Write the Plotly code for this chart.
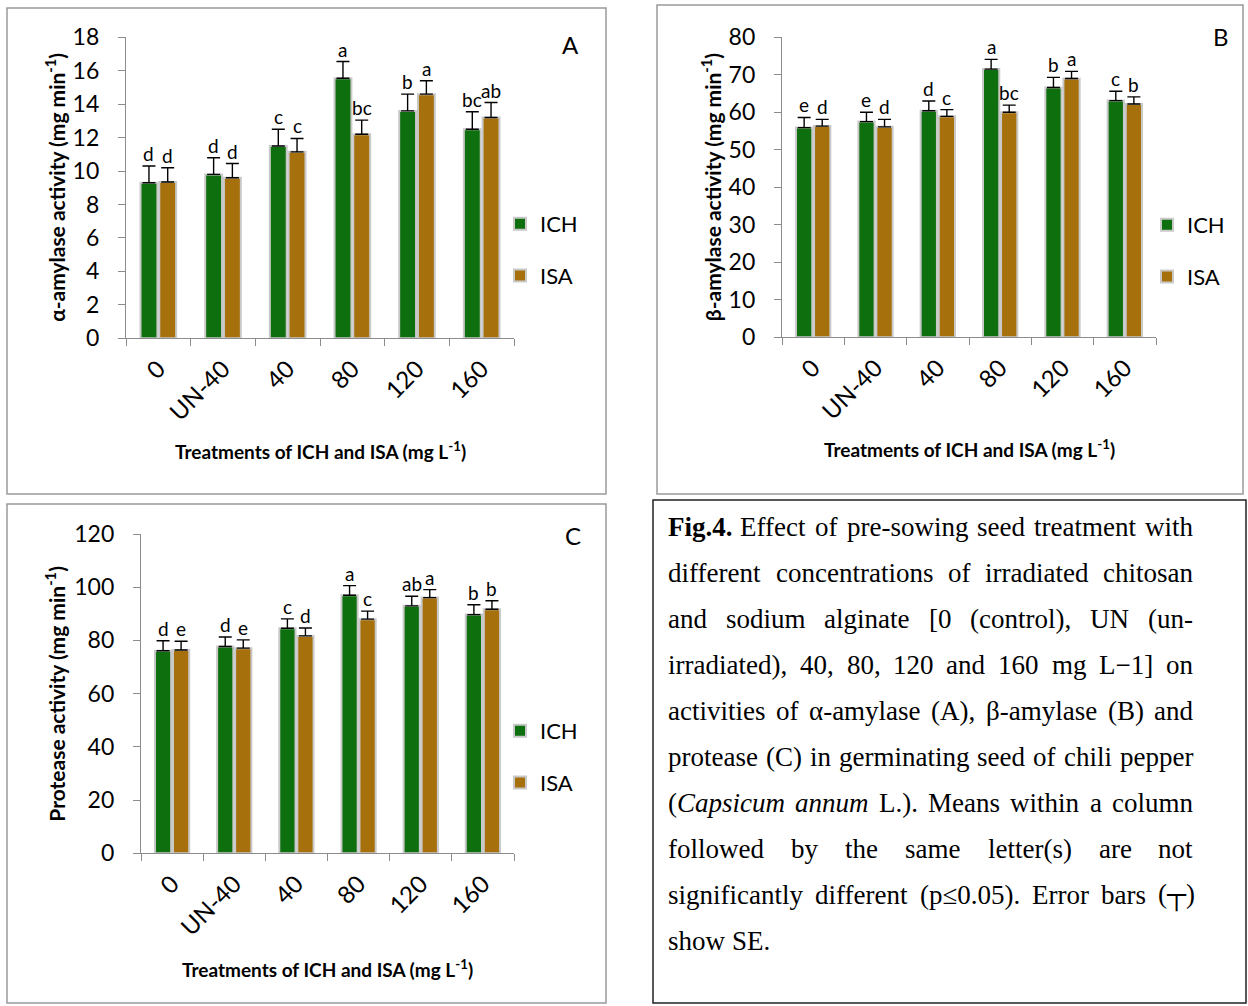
import plotly.graph_objects as go

# ---------------- data ----------------
categories = ["0", "UN-40", "40", "80", "120", "160"]

alpha_ich = [9.3, 9.8, 11.5, 15.55, 13.6, 12.5]
alpha_ich_se = [1.0, 1.0, 1.0, 1.0, 1.0, 1.05]
alpha_isa = [9.35, 9.6, 11.15, 12.2, 14.6, 13.2]
alpha_isa_se = [0.85, 0.85, 0.8, 0.85, 0.8, 0.9]
alpha_ich_letters = ["d", "d", "c", "a", "b", "bc"]
alpha_isa_letters = ["d", "d", "c", "bc", "a", "ab"]

beta_ich = [55.9, 57.5, 60.4, 71.5, 66.6, 63.1]
beta_ich_se = [2.7, 2.5, 2.6, 2.6, 2.7, 2.5]
beta_isa = [56.3, 56.1, 58.9, 60.0, 69.0, 62.2]
beta_isa_se = [1.8, 2.0, 1.8, 1.9, 1.9, 1.9]
beta_ich_letters = ["e", "e", "d", "a", "b", "c"]
beta_isa_letters = ["d", "d", "c", "bc", "a", "b"]

prot_ich = [76.1, 77.7, 84.6, 97.0, 93.0, 89.7]
prot_ich_se = [3.8, 3.6, 3.5, 3.6, 3.6, 3.7]
prot_isa = [76.4, 77.1, 81.7, 88.0, 96.1, 91.7]
prot_isa_se = [3.3, 3.1, 3.0, 3.0, 3.0, 3.2]
prot_ich_letters = ["d", "d", "c", "a", "ab", "b"]
prot_isa_letters = ["e", "e", "d", "c", "a", "b"]

# ---------------- style / layout ----------------
W, H = 1248, 1006
FONT = "Lato"
GREEN = "#0d6f0d"
GOLD = "#a6700c"
AXIS_GREY = "#8c8c8c"
BARGAP, GROUPGAP = 0.42, 0.10


def px(x):
    return x / W


def py(y):
    return 1 - y / H


panels = [
    dict(key="", ich=alpha_ich, ich_se=alpha_ich_se, isa=alpha_isa, isa_se=alpha_isa_se,
         ich_l=alpha_ich_letters, isa_l=alpha_isa_letters, rng=[0, 18], dtick=2,
         xdom=(126, 514), ydom=(37.3, 338.3),
         ytitle="α-amylase activity (mg min<sup>-1</sup>)", ytitle_x=55,
         xtitle_y=450, label="A", label_xy=(570, 44), legend="legend", leg_x=500,
         leg_y=250, frame=(7, 8, 606, 494)),
    dict(key="2", ich=beta_ich, ich_se=beta_ich_se, isa=beta_isa, isa_se=beta_isa_se,
         ich_l=beta_ich_letters, isa_l=beta_isa_letters, rng=[0, 80], dtick=10,
         xdom=(782, 1156), ydom=(37.2, 337.3),
         ytitle="β-amylase activity (mg min<sup>-1</sup>)", ytitle_x=711,
         xtitle_y=448, label="B", label_xy=(1221, 37), legend="legend2", leg_x=1147,
         leg_y=251, frame=(657, 5, 1243, 494)),
    dict(key="3", ich=prot_ich, ich_se=prot_ich_se, isa=prot_isa, isa_se=prot_isa_se,
         ich_l=prot_ich_letters, isa_l=prot_isa_letters, rng=[0, 120], dtick=20,
         xdom=(141, 514), ydom=(534, 853.3),
         ytitle="Protease activity (mg min<sup>-1</sup>)", ytitle_x=55,
         xtitle_y=968, label="C", label_xy=(573, 535), legend="legend3", leg_x=500,
         leg_y=757, frame=(7, 504, 606, 1003)),
]

fig = go.Figure()
xpos = list(range(len(categories)))
half = (1 - BARGAP) / 4  # offset of each bar centre from category centre

annotations = []
shapes = []
layout_upd = {}

for p in panels:
    k = p["key"]
    xa, ya = "x" + k, "y" + k
    for name, vals, se, col, letters, sign in [
        ("ICH", p["ich"], p["ich_se"], GREEN, p["ich_l"], -1),
        ("ISA", p["isa"], p["isa_se"], GOLD, p["isa_l"], 1),
    ]:
        fig.add_trace(go.Bar(
            x=xpos, y=vals, name=name, xaxis=xa, yaxis=ya,
            marker=dict(color=col, line=dict(color="#c9c9c9", width=2)),
            error_y=dict(type="data", array=se, arrayminus=[0] * len(se), symmetric=False,
                         color="black", thickness=1.4, width=6.5),
            legend=p["legend"], legendgroup=p["legend"] + name,
            showlegend=True, hoverinfo="skip",
        ))
        for i, (v, s, t) in enumerate(zip(vals, se, letters)):
            annotations.append(dict(
                x=i + sign * half, y=v + s, xref=xa, yref=ya, text=t, showarrow=False,
                xanchor="center", yanchor="bottom", yshift=-1,
                font=dict(family=FONT, size=19, color="black")))

    layout_upd["xaxis" + k] = dict(
        domain=[px(p["xdom"][0]), px(p["xdom"][1])], anchor=ya,
        range=[-0.5, len(categories) - 0.5], tickmode="array", tickvals=xpos,
        ticktext=categories, tickangle=-45, ticks="", showline=True, linecolor=AXIS_GREY,
        linewidth=1.3, showgrid=False, zeroline=False, ticklabelstandoff=6,
        tickfont=dict(family=FONT, size=24, color="black"),
        minor=dict(tickmode="array", tickvals=[i - 0.5 for i in range(len(categories) + 1)],
                   ticks="outside", ticklen=7, tickcolor=AXIS_GREY, tickwidth=1.3,
                   showgrid=False),
    )
    layout_upd["yaxis" + k] = dict(
        domain=[py(p["ydom"][1]), py(p["ydom"][0])], anchor=xa,
        range=p["rng"], dtick=p["dtick"], ticks="outside", ticklen=7, tickcolor=AXIS_GREY,
        tickwidth=1.3, showline=True, linecolor=AXIS_GREY, linewidth=1.3, showgrid=False,
        zeroline=False, ticklabelstandoff=14,
        tickfont=dict(family=FONT, size=23, color="black"),
    )
    layout_upd[p["legend"]] = dict(
        x=px(p["leg_x"]), xanchor="left", y=py(p["leg_y"]), yanchor="middle",
        font=dict(family=FONT, size=22, color="black"), bgcolor="rgba(0,0,0,0)",
        tracegroupgap=20, itemclick=False, itemdoubleclick=False,
    )
    # axis titles
    annotations.append(dict(
        x=px(p["ytitle_x"]), y=py((p["ydom"][0] + p["ydom"][1]) / 2), xref="paper",
        yref="paper", text="<b>" + p["ytitle"] + "</b>", textangle=-90, showarrow=False,
        xanchor="center", yanchor="middle", font=dict(family=FONT, size=21, color="black")))
    annotations.append(dict(
        x=px((p["xdom"][0] + p["xdom"][1]) / 2), y=py(p["xtitle_y"]), xref="paper",
        yref="paper", text="<b>Treatments of ICH and ISA (mg L<sup>-1</sup>)</b>",
        showarrow=False, xanchor="center", yanchor="middle",
        font=dict(family=FONT, size=19, color="black")))
    annotations.append(dict(
        x=px(p["label_xy"][0]), y=py(p["label_xy"][1]), xref="paper", yref="paper",
        text=p["label"], showarrow=False, xanchor="center", yanchor="middle",
        font=dict(family=FONT, size=24, color="black")))
    fx0, fy0, fx1, fy1 = p["frame"]
    shapes.append(dict(type="rect", xref="paper", yref="paper", x0=px(fx0), x1=px(fx1),
                       y0=py(fy1), y1=py(fy0), line=dict(color="#9a9a9a", width=1.5)))

# ---------------- caption ----------------
shapes.append(dict(type="rect", xref="paper", yref="paper", x0=px(653), x1=px(1246),
                   y0=py(1003), y1=py(500), line=dict(color="#222222", width=1.5)))

TW = {" ": 250, "(": 333, ")": 333, ",": 250, "-": 333, ".": 250, "[": 333, "]": 333,
      "A": 722, "B": 667, "C": 667, "E": 611, "F": 556, "L": 611, "M": 889, "N": 722,
      "S": 556, "U": 722, "a": 444, "b": 500, "c": 444, "d": 500, "e": 444, "f": 333,
      "g": 500, "h": 500, "i": 278, "l": 278, "m": 778, "n": 500, "o": 500, "p": 500,
      "r": 333, "s": 389, "t": 278, "u": 500, "v": 500, "w": 722, "y": 500, "z": 444,
      "α": 540, "β": 500, "≤": 549, "−": 564, "┬": 620}
for d in "0123456789":
    TW[d] = 500


def word_width(w, size):
    import re
    plain = re.sub(r"<[^>]+>", "", w)
    return sum(TW.get(c, 500) for c in plain) * size / 1000.0


caption_lines = [
    "<b>Fig.4.</b> Effect of pre-sowing seed treatment with",
    "different concentrations of irradiated chitosan",
    "and sodium alginate [0 (control), UN (un-",
    "irradiated), 40, 80, 120 and 160 mg L−1] on",
    "activities of α-amylase (A), β-amylase (B) and",
    "protease (C) in germinating seed of chili pepper",
    "(<i>Capsicum</i> <i>annum</i> L.). Means within a column",
    "followed by the same letter(s) are not",
    "significantly different (p≤0.05). Error bars (┬)",
    "show SE.",
]
CAP_SIZE = 27
CAP_LEFT, CAP_RIGHT = 667, 1192
CAP_TOP, CAP_STEP = 527, 46
for li, line in enumerate(caption_lines):
    words = line.split(" ")
    widths = [word_width(w, CAP_SIZE) for w in words]
    if li < len(caption_lines) - 1 and len(words) > 1:
        gap = (CAP_RIGHT - CAP_LEFT - sum(widths)) / (len(words) - 1)
    else:
        gap = TW[" "] * CAP_SIZE / 1000.0
    xcur = CAP_LEFT
    for w, ww in zip(words, widths):
        annotations.append(dict(
            x=px(xcur), y=py(CAP_TOP + li * CAP_STEP), xref="paper", yref="paper",
            text=w, showarrow=False, xanchor="left", yanchor="middle", borderpad=0,
            font=dict(family="Liberation Serif", size=CAP_SIZE, color="black")))
        xcur += ww + gap

fig.update_layout(
    width=W, height=H, autosize=False,
    margin=dict(l=0, r=0, t=0, b=0, pad=0, autoexpand=False),
    paper_bgcolor="white", plot_bgcolor="white",
    barmode="group", bargap=BARGAP, bargroupgap=GROUPGAP,
    annotations=annotations, shapes=shapes, **layout_upd,
)

fig.write_html(
    "out.html",
    config={"displayModeBar": False, "responsive": False},
    post_script="document.body.style.margin='0';document.body.style.padding='0';"
                "document.body.style.overflow='hidden';",
)
